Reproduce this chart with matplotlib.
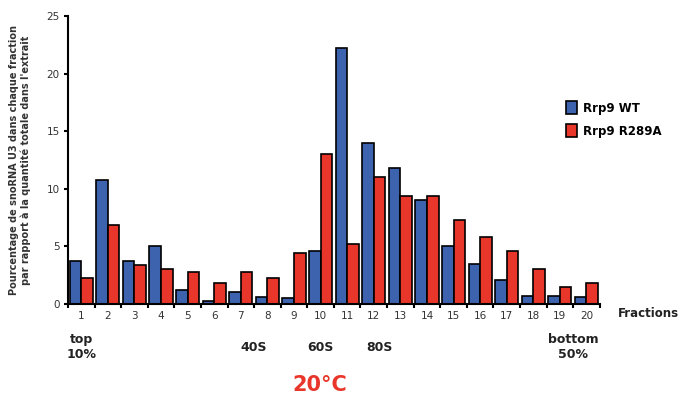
import numpy as np
from matplotlib import pyplot as plt
from matplotlib.patches import Patch

fractions = [str(i) for i in range(1, 21)]
wt = [3.7, 10.8, 3.75, 5.05, 1.2, 0.3, 1.0, 0.6, 0.5, 4.6,
      22.2, 14.0, 11.8, 9.0, 5.05, 3.5, 2.05, 0.7, 0.7, 0.65]
r289a = [2.25, 6.85, 3.4, 3.0, 2.8, 1.85, 2.8, 2.3, 4.4, 13.0,
         5.2, 11.0, 9.35, 9.35, 7.3, 5.8, 4.6, 3.0, 1.5, 1.8]
series_names = ["Rrp9 WT", "Rrp9 R289A"]
markers = [(1, "top\n10%"), (7.5, "40S"), (10, "60S"), (12.2, "80S"), (19.5, "bottom\n50%")]

blue = "#3e63ae"
red = "#e8362b"

fig = plt.figure(figsize=(6.8, 4.03), dpi=100)
ax = fig.add_axes([0.1, 0.2457, 0.782, 0.714])

x = np.arange(1, len(fractions) + 1)
w = 0.435
ax.bar(x - w / 2, wt, width=w, color=blue, edgecolor="black", linewidth=1.2)
ax.bar(x + w / 2, r289a, width=w, color=red, edgecolor="black", linewidth=1.2)

ax.set_xlim(0.5, 20.5)
ax.set_ylim(0, 25)
ax.spines["top"].set_visible(False)
ax.spines["right"].set_visible(False)
ax.spines["left"].set_linewidth(1.5)
ax.spines["bottom"].set_linewidth(1.5)

ax.set_yticks([0, 5, 10, 15, 20, 25])
ax.tick_params(axis="y", direction="out", length=3, width=1.5, labelsize=7.5,
               labelcolor="#333333", pad=3)
# boundary ticks, labels in the middle
ax.set_xticks(np.arange(0.5, 21.5, 1))
ax.set_xticklabels([])
ax.set_xticks(x, minor=True)
ax.set_xticklabels(fractions, minor=True)
ax.tick_params(axis="x", which="major", direction="out", length=3, width=1.5)
ax.tick_params(axis="x", which="minor", length=0, labelsize=7.5,
               labelcolor="#333333", pad=5)

ax.set_ylabel("Pourcentage de snoRNA U3 dans chaque fraction\npar rapport à la quantité totale dans l'extrait",
              fontsize=7, fontweight="bold", color="#333333", linespacing=1.1)
ax.yaxis.set_label_coords(-0.07, 0.5)

handles = [Patch(facecolor=blue, edgecolor="black", linewidth=1.2),
           Patch(facecolor=red, edgecolor="black", linewidth=1.2)]
fig.legend(handles, series_names, loc="upper left", bbox_to_anchor=(0.816, 0.775),
           frameon=False, prop={"weight": "bold", "size": 8.5},
           handlelength=1.0, handleheight=1.3, handletextpad=0.5, labelspacing=0.8)

fig.text(0.908, 0.222, "Fractions", fontsize=8.5, fontweight="bold", color="#222222",
         va="center", ha="left")

trans = ax.get_xaxis_transform()
for pos, label in markers:
    ax.text(pos, -0.15, label, transform=trans, ha="center", va="center",
            fontsize=9, fontweight="bold", color="#222222", linespacing=1.15)

fig.text(0.47, 0.045, "20°C", fontsize=15, fontweight="bold", color=red,
         ha="center", va="center")

fig.savefig("out.png", dpi=100)
